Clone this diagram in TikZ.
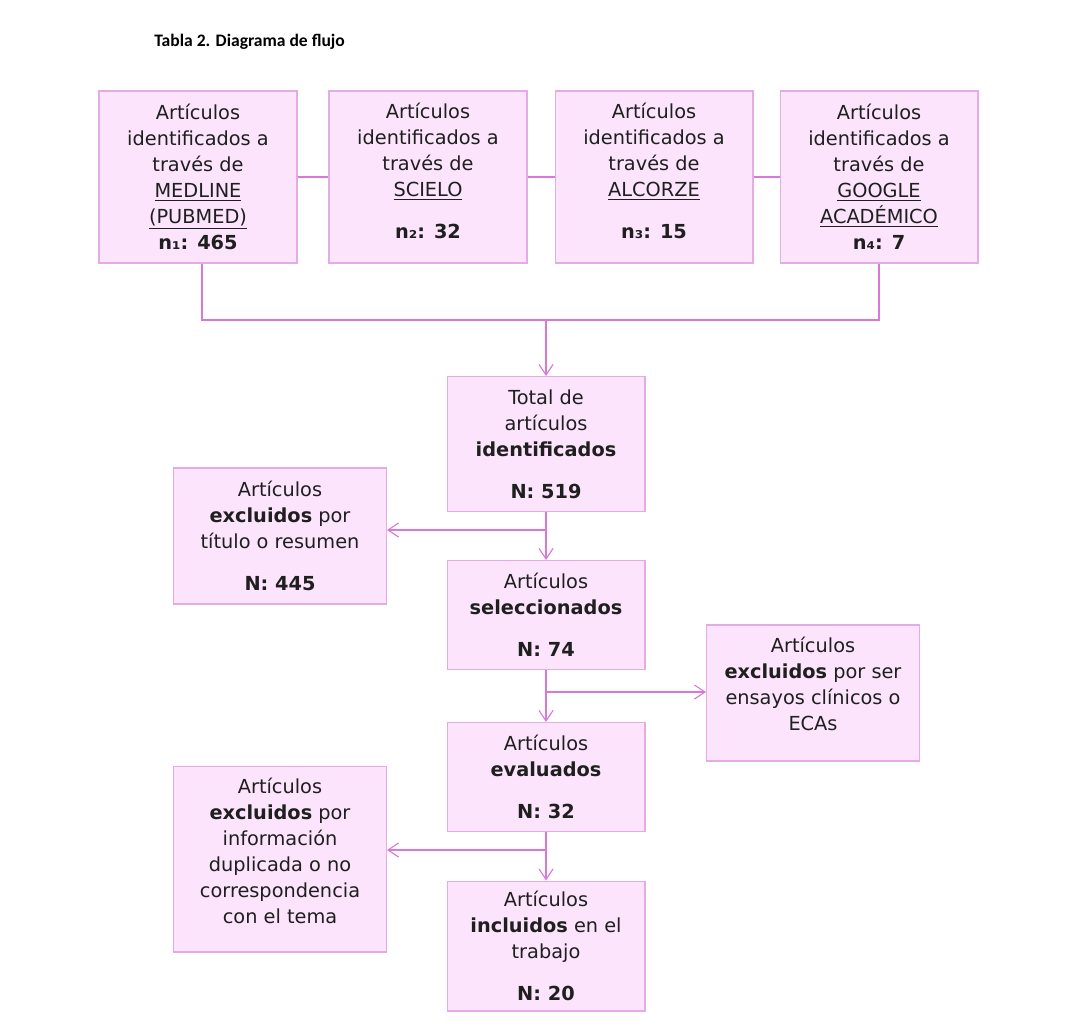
\documentclass[tikz,border=0pt]{standalone}
\usepackage{fontspec}
\setmainfont{DejaVu Sans}
\newfontfamily\titlefont{Carlito}
\usepackage{xcolor}
\usepackage{tikz}
\usetikzlibrary{arrows.meta}
\definecolor{boxfill}{RGB}{252,228,252}
\definecolor{boxline}{RGB}{228,172,228}
\definecolor{flowline}{RGB}{218,120,218}

\begin{document}
\begin{tikzpicture}[x=0.02cm, y=-0.02cm,
	box/.style={draw=boxline, fill=boxfill, line width=0.6pt, align=center, inner sep=0pt,
		font=\fontsize{11}{14.8}\selectfont, text=black!88},
	topbox/.style={box, minimum width=3.96cm, minimum height=3.44cm},
	midbox/.style={box, minimum width=3.96cm},
	sidebox/.style={box, minimum width=4.26cm},
	link/.style={draw=flowline, line width=0.65pt},
	flow/.style={link, -{Straight Barb[length=6pt, width=8pt]}}]
	\useasboundingbox (0,0) rectangle (1074,1031);
	\node[anchor=west, inner sep=0pt, font=\titlefont\bfseries\fontsize{10}{12}\selectfont] (title) at (154,42) {Tabla 2. Diagrama de flujo};

	\node[topbox] (b1) at (198,177) {Artículos\\identificados a\\través de\\\underline{MEDLINE}\\\underline{(PUBMED)}\\\textbf{n₁: 465}};
	\node[topbox] (b2) at (428,177) {Artículos\\identificados a\\través de\\\underline{SCIELO}\\[9pt]\textbf{n₂: 32}\\[-7.4pt]\mbox{}};
	\node[topbox] (b3) at (654,177) {Artículos\\identificados a\\través de\\\underline{ALCORZE}\\[9pt]\textbf{n₃: 15}\\[-7.4pt]\mbox{}};
	\node[topbox] (b4) at (879,177) {Artículos\\identificados a\\través de\\\underline{GOOGLE}\\\underline{ACADÉMICO}\\\textbf{n₄: 7}};
	\foreach \a/\b in {b1/b2, b2/b3, b3/b4}
		\draw[link] (\a.east) -- (\b.west);

	\node[midbox, minimum height=2.70cm] (tot) at (546,444) {Total de\\artículos\\\textbf{identificados}\\[9pt]\textbf{N: 519}};
	\node[sidebox, minimum height=2.72cm] (ex1) at (280,536) {Artículos\\\textbf{excluidos} por\\título o resumen\\[9pt]\textbf{N: 445}};
	\node[midbox, minimum height=2.18cm] (sel) at (546,615) {Artículos\\\textbf{seleccionados}\\[9pt]\textbf{N: 74}};
	\node[sidebox, minimum height=2.72cm] (ex2) at (813,693) {Artículos\\\textbf{excluidos} por ser\\ensayos clínicos o\\ECAs\\[-4.8pt]\mbox{}};
	\node[midbox, minimum height=2.18cm] (ev) at (546,777) {Artículos\\\textbf{evaluados}\\[9pt]\textbf{N: 32}};
	\node[sidebox, minimum height=3.72cm] (ex3) at (280,859) {Artículos\\\textbf{excluidos} por\\información\\duplicada o no\\correspondencia\\con el tema\\[-5.3pt]\mbox{}};
	\node[midbox, minimum height=2.60cm] (inc) at (546,946) {Artículos\\\textbf{incluidos} en el\\trabajo\\[9pt]\textbf{N: 20}};

	\coordinate (join) at (546,320);
	\draw[link] ([xshift=0.08cm]b1.south) |- (join) -| (b4.south);
	\draw[flow] (join) -- (tot.north);

	\draw[flow] (tot.south) -- (sel.north);
	\coordinate (cut1) at (546,530);
	\draw[flow] (cut1) -- (ex1.east |- cut1);
	\draw[flow] (sel.south) -- (ev.north);
	\coordinate (cut2) at (546,692);
	\draw[flow] (cut2) -- (ex2.west |- cut2);
	\draw[flow] (ev.south) -- (inc.north);
	\coordinate (cut3) at (546,850);
	\draw[flow] (cut3) -- (ex3.east |- cut3);
\end{tikzpicture}
\end{document}
